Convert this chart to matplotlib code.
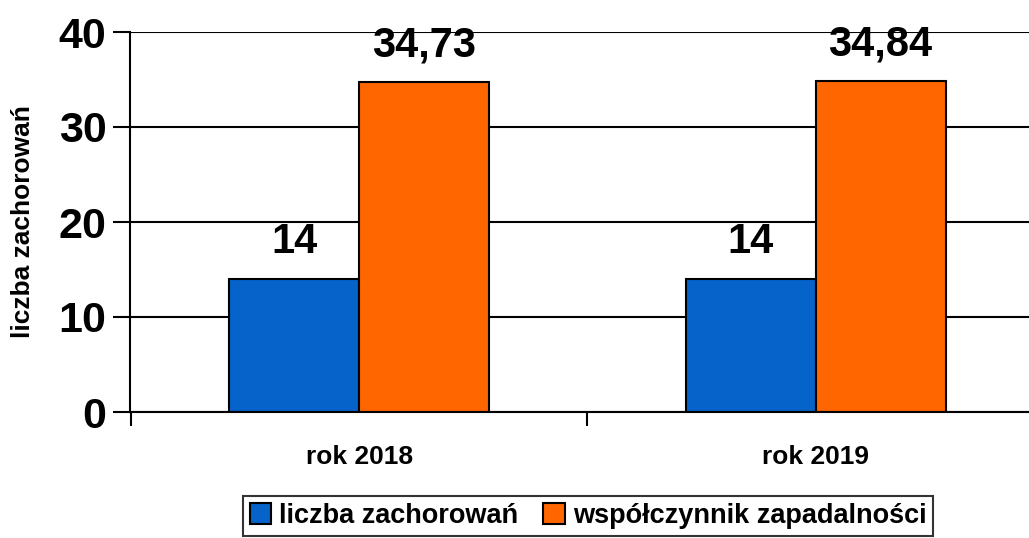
import numpy as np
import matplotlib
matplotlib.use("Agg")
import matplotlib.pyplot as plt

categories = ["rok 2018", "rok 2019"]
cases = [14, 14]
incidence = [34.73, 34.84]
series_names = ["liczba zachorowań", "współczynnik zapadalności"]
colors = ["#0563C9", "#FF6600"]

plt.rcParams["font.family"] = ["Liberation Sans", "DejaVu Sans"]
plt.rcParams["font.weight"] = "bold"

fig = plt.figure(figsize=(10.29, 5.38), dpi=100)
ax = fig.add_axes([130 / 1029, 1 - 412 / 538, (1029 - 130) / 1029, (412 - 32) / 538])

x = np.arange(len(categories))
w = 0.285
b1 = ax.bar(x - w / 2, cases, w, color=colors[0], edgecolor="black", linewidth=1.5,
            label=series_names[0], zorder=3)
b2 = ax.bar(x + w / 2, incidence, w, color=colors[1], edgecolor="black", linewidth=1.5,
            label=series_names[1], zorder=3)

# value labels
for bars, vals in ((b1, cases), (b2, incidence)):
    for rect, v in zip(bars, vals):
        txt = f"{v:.2f}".replace(".", ",") if v != int(v) else f"{int(v)}"
        ax.annotate(txt, (rect.get_x() + rect.get_width() / 2, rect.get_height()),
                    xytext=(0, 12), textcoords="offset points", ha="center", va="bottom",
                    fontsize=30, fontweight="bold")

ax.set_ylim(0, 40)
ax.set_yticks([0, 10, 20, 30, 40])
ax.yaxis.grid(True, color="black", linewidth=1.5, zorder=0)
ax.tick_params(axis="y", labelsize=31, length=12, width=1.5, direction="out", pad=5)

ax.set_xticks([-0.5, 0.5, 1.5])
ax.set_xticklabels([])
ax.set_xticks(x, minor=True)
ax.set_xticklabels(categories, minor=True)
ax.tick_params(axis="x", which="major", length=10, width=1.5, direction="out")
ax.tick_params(axis="x", which="minor", length=0, labelsize=19, pad=24)
ax.set_xlim(-0.503, 1.468)

for s in ("top", "right"):
    ax.spines[s].set_visible(False)
for s in ("left", "bottom"):
    ax.spines[s].set_linewidth(1.5)
    ax.spines[s].set_zorder(4)

ax.set_ylabel("liczba zachorowań", fontsize=19, fontweight="bold", labelpad=17)

leg = fig.legend(loc="center", bbox_to_anchor=(588 / 1029, 1 - 516 / 538), ncol=2,
                 frameon=True, fancybox=False, edgecolor="black", fontsize=19.5,
                 handlelength=0.8, handleheight=0.8, handletextpad=0.3,
                 columnspacing=0.9, borderpad=0.25)
leg.get_frame().set_linewidth(1.5)

fig.savefig("out.png", dpi=100)
